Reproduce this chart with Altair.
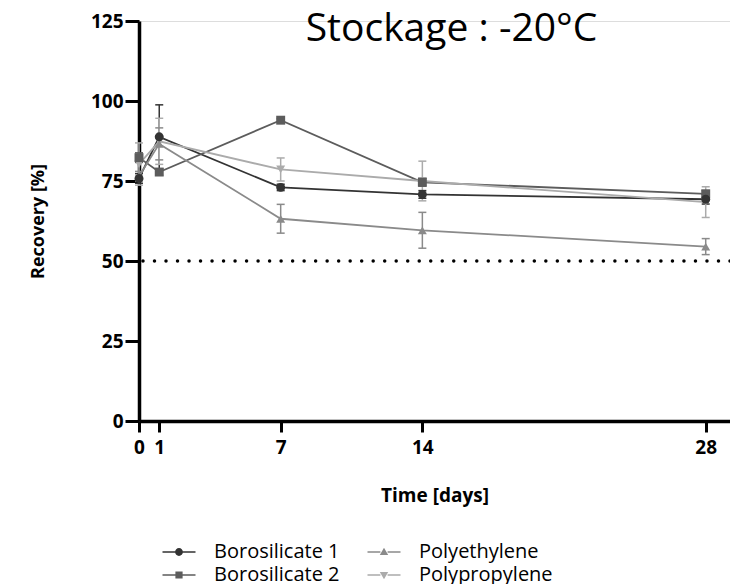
import altair as alt
import pandas as pd

# ---- data ----
days = [0, 1, 7, 14, 28]
series_names = ["Borosilicate 1", "Borosilicate 2", "Polyethylene", "Polypropylene"]
b1_mean = [75.8, 88.8, 73.0, 70.8, 69.3]
b1_sd = [1.5, 10.0, 1.0, 1.2, 1.5]
b2_mean = [82.3, 77.8, 94.0, 74.6, 71.0]
b2_sd = [1.5, 1.0, 0.5, 1.2, 1.0]
pe_mean = [76.5, 86.6, 63.2, 59.6, 54.5]
pe_sd = [1.5, 5.0, 4.5, 5.6, 2.5]
pp_mean = [80.3, 87.4, 78.6, 75.0, 68.4]
pp_sd = [6.6, 7.2, 3.6, 6.2, 4.8]
threshold = [50]
x_ticks = [0, 1, 7, 14, 28]
y_ticks = [0, 25, 50, 75, 100, 125]

colors = ["#333333", "#5c5c5c", "#8a8a8a", "#ababab"]
shapes = ["circle", "square", "triangle-up", "triangle-down"]

means = [b1_mean, b2_mean, pe_mean, pp_mean]
sds = [b1_sd, b2_sd, pe_sd, pp_sd]
rows = []
for k, name in enumerate(series_names):
    for d, m, s in zip(days, means[k], sds[k]):
        rows.append({"series": name, "day": d, "mean": m, "lo": m - s, "hi": m + s,
                     "order": 3 - k})
df = pd.DataFrame(rows)
df_thr = pd.DataFrame({"y": threshold})

# legend: line + marker symbols
line_part = "M-2.75,-0.13H-0.6V0.13H-2.75Z M0.6,-0.13H2.75V0.13H0.6Z "
legend_paths = {
    "Borosilicate 1": line_part + "M0.65,0A0.65,0.65 0 1,1 -0.65,0A0.65,0.65 0 1,1 0.65,0Z",
    "Borosilicate 2": line_part + "M-0.6,-0.6H0.6V0.6H-0.6Z",
    "Polyethylene": line_part + "M0,-0.7L0.7,0.5H-0.7Z",
    "Polypropylene": line_part + "M0,0.7L0.7,-0.5H-0.7Z",
}
legend_range = [legend_paths[n] for n in series_names]

W, H = 591, 400
FONT = "Open Sans"

x_axis = alt.Axis(values=x_ticks, title="Time [days]", grid=False,
                  labelFlush=False, labelOverlap=False,
                  domainWidth=3.5, domainColor="black",
                  tickWidth=3, tickSize=11, tickColor="black",
                  labelFont=FONT, labelFontSize=19, labelFontWeight="bold",
                  labelColor="black", labelPadding=6,
                  titleFont=FONT, titleFontSize=19, titleFontWeight="bold",
                  titleColor="black", titlePadding=29)
y_axis = alt.Axis(values=y_ticks, title="Recovery [%]", grid=False,
                  labelFlush=False, labelOverlap=False,
                  domainWidth=3.5, domainColor="black",
                  tickWidth=3, tickSize=14, tickColor="black",
                  labelFont=FONT, labelFontSize=19, labelFontWeight="bold",
                  labelColor="black", labelPadding=2,
                  titleFont=FONT, titleFontSize=18, titleFontWeight="bold",
                  titleColor="black", titlePadding=43)
x_scale = alt.Scale(domain=[0, 29.2], nice=False)
y_scale = alt.Scale(domain=[0, 125], nice=False)

def X(field):
    return alt.X(field, scale=x_scale, axis=x_axis)

def Y(field):
    return alt.Y(field, scale=y_scale, axis=y_axis)

color_enc = alt.Color("series:N", scale=alt.Scale(domain=series_names, range=colors), legend=None)
shape_enc = alt.Shape("series:N", scale=alt.Scale(domain=series_names, range=shapes), legend=None)

base = alt.Chart(df)

thr = alt.Chart(df_thr).mark_rule(color="black", strokeWidth=3.5, strokeCap="round",
                                   strokeDash=[0.01, 11.5]).encode(y=Y("y:Q"))

err = base.mark_rule(strokeWidth=1.5).encode(
    x=X("day:Q"), y=Y("lo:Q"), y2="hi:Q", color=color_enc)
cap_lo = base.mark_tick(orient="horizontal", size=8, thickness=1.5, opacity=1).encode(
    x=X("day:Q"), y=Y("lo:Q"), color=color_enc)
cap_hi = base.mark_tick(orient="horizontal", size=8, thickness=1.5, opacity=1).encode(
    x=X("day:Q"), y=Y("hi:Q"), color=color_enc)
lines = base.mark_line(strokeWidth=1.8).encode(
    x=X("day:Q"), y=Y("mean:Q"), color=color_enc,
    detail="series:N", order="order:Q")
pts = base.mark_point(filled=True, size=80, opacity=1).encode(
    x=X("day:Q"), y=Y("mean:Q"), color=color_enc, shape=shape_enc,
    order="order:Q")

leg = alt.Legend(orient="none", legendX=30, legendY=521, columns=2, title=None,
                 symbolSize=144, symbolStrokeWidth=0, symbolOpacity=1,
                 labelFont=FONT, labelFontSize=20, labelColor="black",
                 labelOffset=25, columnPadding=27, rowPadding=3, padding=0,
                 labelLimit=400)
legend_layer = alt.Chart(df).transform_filter("false").mark_point(filled=True, opacity=1).encode(
    x=X("day:Q"), y=Y("mean:Q"),
    color=alt.Color("series:N", scale=alt.Scale(domain=series_names, range=colors), legend=leg),
    shape=alt.Shape("series:N", scale=alt.Scale(domain=series_names, range=legend_range), legend=leg),
)

chart = alt.layer(thr, err, cap_lo, cap_hi, lines, pts, legend_layer).resolve_scale(
    color="independent", shape="independent"
).properties(
    width=W, height=H,
    title=alt.TitleParams("Stockage : -20°C", font=FONT, fontSize=39, fontWeight="normal",
                          color="black", anchor="middle", baseline="alphabetic",
                          offset=0, dx=17, dy=68),
    padding={"left": 139, "top": 21, "right": 0, "bottom": 163},
    autosize=alt.AutoSizeParams(type="none"),
).configure_view(stroke=None).configure(background="white")

chart.save("out.html", embed_options={"renderer": "svg", "actions": False})
